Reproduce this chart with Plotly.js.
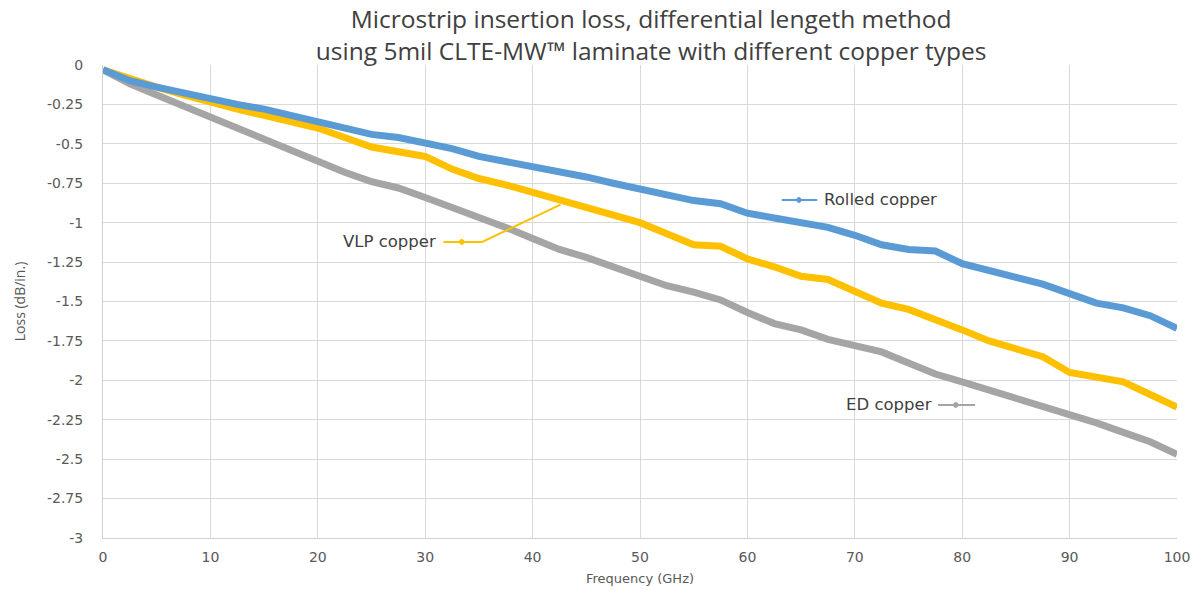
<!DOCTYPE html>
<html>
<head>
<meta charset="utf-8">
<script src="https://cdn.plot.ly/plotly-3.0.1.min.js"></script>
<style>html,body{margin:0;padding:0;background:#fff;}#chart{width:1197px;height:590px;}</style>
</head>
<body>
<div id="chart"></div>
<script>
const freq = [0,2.5,5,7.5,10,12.5,15,17.5,20,22.5,25,27.5,30,32.5,35,37.5,40,42.5,45,47.5,50,52.5,55,57.5,60,62.5,65,67.5,70,72.5,75,77.5,80,82.5,85,87.5,90,92.5,95,97.5,100];
const rolled = [-0.03,-0.10,-0.14,-0.18,-0.21,-0.25,-0.28,-0.32,-0.35,-0.39,-0.44,-0.46,-0.49,-0.53,-0.58,-0.61,-0.65,-0.68,-0.71,-0.75,-0.79,-0.83,-0.86,-0.88,-0.94,-0.97,-1.00,-1.03,-1.08,-1.14,-1.17,-1.18,-1.26,-1.30,-1.34,-1.39,-1.45,-1.51,-1.54,-1.59,-1.67];
const vlp = [-0.03,-0.09,-0.14,-0.19,-0.24,-0.28,-0.32,-0.36,-0.40,-0.46,-0.52,-0.55,-0.58,-0.66,-0.72,-0.76,-0.81,-0.86,-0.91,-0.96,-1.00,-1.07,-1.14,-1.15,-1.23,-1.28,-1.34,-1.36,-1.44,-1.51,-1.55,-1.61,-1.68,-1.75,-1.80,-1.85,-1.95,-1.98,-2.01,-2.09,-2.17];
const ed = [-0.03,-0.12,-0.19,-0.26,-0.34,-0.41,-0.48,-0.55,-0.62,-0.68,-0.74,-0.78,-0.84,-0.90,-0.97,-1.03,-1.10,-1.17,-1.22,-1.28,-1.34,-1.40,-1.44,-1.49,-1.57,-1.64,-1.68,-1.74,-1.78,-1.82,-1.89,-1.96,-2.01,-2.06,-2.12,-2.17,-2.21,-2.27,-2.33,-2.39,-2.47];
const seriesNames = ['Rolled copper','VLP copper','ED copper'];
const xTicks = [0,10,20,30,40,50,60,70,80,90,100];
const yTicks = [0,-0.25,-0.5,-0.75,-1,-1.25,-1.5,-1.75,-2,-2.25,-2.5,-2.75,-3];
const yTickText = ['0','-0.25','-0.5','-0.75','-1','-1.25','-1.5','-1.75','-2','-2.25','-2.5','-2.75','-3'];

const colors = ['#5b9bd5','#ffc000','#a5a5a5'];
const traces = [ed, vlp, rolled].map((v,i)=>{
  const idx = [2,1,0][i];
  return {x: freq, y: v, type:'scatter', mode:'lines', name: seriesNames[idx],
    line:{color: colors[idx], width: 7, shape:'linear'}, hoverinfo:'x+y'};
});

const labelFont = {family:'"DejaVu Sans", Verdana, sans-serif', size:16.5, color:'#404040'};
const tickFont = {family:'"DejaVu Sans", Verdana, sans-serif', size:14, color:'#595959'};
const layout = {
  width:1197, height:590,
  margin:{l:103, r:20, t:65, b:52},
  paper_bgcolor:'#fff', plot_bgcolor:'#fff',
  showlegend:false,
  title:{text:'Microstrip insertion loss, differential lengeth method<br>using 5mil CLTE-MW\u2122 laminate with different copper types',
    font:{family:'"Open Sans", "Liberation Sans", sans-serif', size:24.5, color:'#404040'},
    x:0.544, xref:'container', y:0.953, yref:'container', yanchor:'middle'},
  xaxis:{range:[0,100], tickvals:xTicks, ticktext:xTicks.map(String), showgrid:true, gridcolor:'#d9d9d9', gridwidth:1,
    zeroline:false, showline:true, linecolor:'#d0d0d0', linewidth:1, ticks:'', ticklabelstandoff:6,
    tickfont:tickFont,
    title:{text:'Frequency (GHz)', font:{family:'"DejaVu Sans", Verdana, sans-serif', size:13, color:'#595959'}, standoff:10}},
  yaxis:{range:[-3,0], tickvals:yTicks, ticktext:yTickText, showgrid:true, gridcolor:'#d9d9d9', gridwidth:1,
    zeroline:false, showline:true, linecolor:'#d0d0d0', linewidth:1, ticks:'', ticklabelstandoff:16,
    tickfont:tickFont,
    title:{text:'Loss (dB/in.)', font:{family:'"Open Sans", "Liberation Sans", sans-serif', size:14, color:'#595959'}, standoff:18}},
  shapes:[
    {type:'line', xref:'x', yref:'y', x0:63.2, x1:66.5, y0:-0.856, y1:-0.856, line:{color:'#5b9bd5', width:2}},
    {type:'circle', xref:'x', yref:'y', x0:64.6, x1:65.0, y0:-0.872, y1:-0.84, fillcolor:'#5b9bd5', line:{color:'#5b9bd5', width:1}},
    {type:'path', xref:'x', yref:'y', path:'M 31.7 -1.122 L 35.3 -1.122 L 42.6 -0.885', line:{color:'#ffc000', width:2}},
    {type:'circle', xref:'x', yref:'y', x0:33.2, x1:33.6, y0:-1.138, y1:-1.106, fillcolor:'#ffc000', line:{color:'#ffc000', width:1}},
    {type:'line', xref:'x', yref:'y', x0:77.75, x1:81.2, y0:-2.156, y1:-2.156, line:{color:'#a5a5a5', width:2}},
    {type:'circle', xref:'x', yref:'y', x0:79.2, x1:79.6, y0:-2.172, y1:-2.14, fillcolor:'#a5a5a5', line:{color:'#a5a5a5', width:1}}
  ],
  annotations:[
    {text:'Rolled copper', x:66.9, y:-0.856, xref:'x', yref:'y', xanchor:'left', yanchor:'middle', showarrow:false, font:labelFont},
    {text:'VLP copper', x:31.2, y:-1.122, xref:'x', yref:'y', xanchor:'right', yanchor:'middle', showarrow:false, font:labelFont},
    {text:'ED copper', x:77.4, y:-2.156, xref:'x', yref:'y', xanchor:'right', yanchor:'middle', showarrow:false, font:labelFont}
  ]
};
Plotly.newPlot('chart', traces, layout, {displayModeBar:false, staticPlot:true});
</script>
</body>
</html>
